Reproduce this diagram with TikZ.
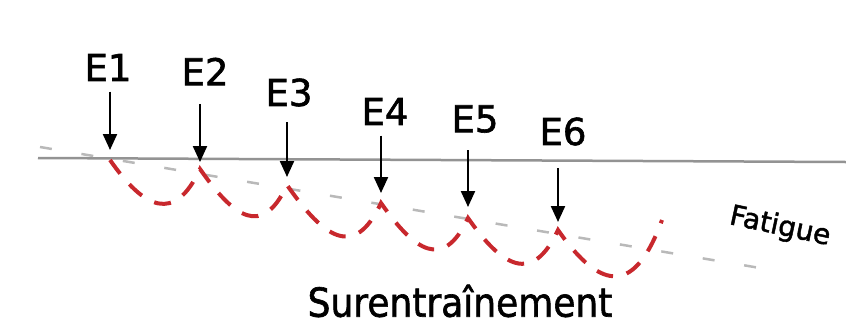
\documentclass[tikz,border=0pt]{standalone}
\usepackage{fontspec}
\setmainfont[FakeBold=1.6]{DejaVu Sans}
\usetikzlibrary{arrows.meta}
\definecolor{curvered}{RGB}{200,40,45}

\begin{document}
\begin{tikzpicture}[x=1pt,y=-1pt,
        lab/.style={font=\fontsize{37}{42}\selectfont},
        hit/.style={-{Triangle[width=14pt,length=16pt]}, line width=2.2pt},
        fat/.style={draw=gray!55, line width=2.5pt, dash pattern=on 12pt off 30pt},
        over/.style={draw=curvered, line width=4pt, dash pattern=on 17pt off 14pt},
        dip/.style={out=-55, in=-115, looseness=1.7}]
        \useasboundingbox (0,0) rectangle (846,325);
        \coordinate (e1) at (110,160);
        \coordinate (e2) at (200,169);
        \coordinate (e3) at (287,185);
        \coordinate (e4) at (381,203);
        \coordinate (e5) at (468,218);
        \coordinate (e6) at (558,230);
        \coordinate (end) at (662,220);
        \coordinate (h0) at (38,158);
        \coordinate (h1) at (846,162);
        \coordinate (f0) at (40,147);
        \coordinate (f1) at (772,270);
        \node (l1) [lab] at (108,67.5) {E1};
        \node (l2) [lab] at (205,71.5) {E2};
        \node (l3) [lab] at (289,92.5) {E3};
        \node (l4) [lab] at (385,111.5) {E4};
        \node (l5) [lab] at (475,119) {E5};
        \node (l6) [lab] at (563,131.5) {E6};
        \node (fatigue) [font=\fontsize{28}{32}\selectfont, rotate=-12] at (780,227) {Fatigue};
        \node (surent) [lab, font=\fontsize{40}{44}\selectfont, xscale=0.9, inner sep=1pt] at (460,301) {Surentraînement};
        \draw[gray!85, line width=2.5pt] (h0) -- (h1);
        \draw[fat] (f0) -- (f1);
        \draw[over] (e1) to[dip] (e2) to[dip] (e3) to[dip] (e4) to[dip] (e5)
                to[dip] (e6) to[out=-55, in=-110, looseness=1.9] (end);
        \draw (l1.south -| e1) edge [hit, shorten <=7pt, shorten >=10pt] (e1);
        \draw (l2.south -| e2) edge [hit, shorten <=15pt, shorten >=7pt] (e2);
        \draw (l3.south -| e3) edge [hit, shorten <=12pt, shorten >=8pt] (e3);
        \draw (l4.south -| e4) edge [hit, shorten <=7pt, shorten >=10pt] (e4);
        \draw (l5.south -| e5) edge [hit, shorten <=14pt, shorten >=11pt] (e5);
        \draw (l6.south -| e6) edge [hit, shorten <=19pt, shorten >=8pt] (e6);
\end{tikzpicture}
\end{document}
